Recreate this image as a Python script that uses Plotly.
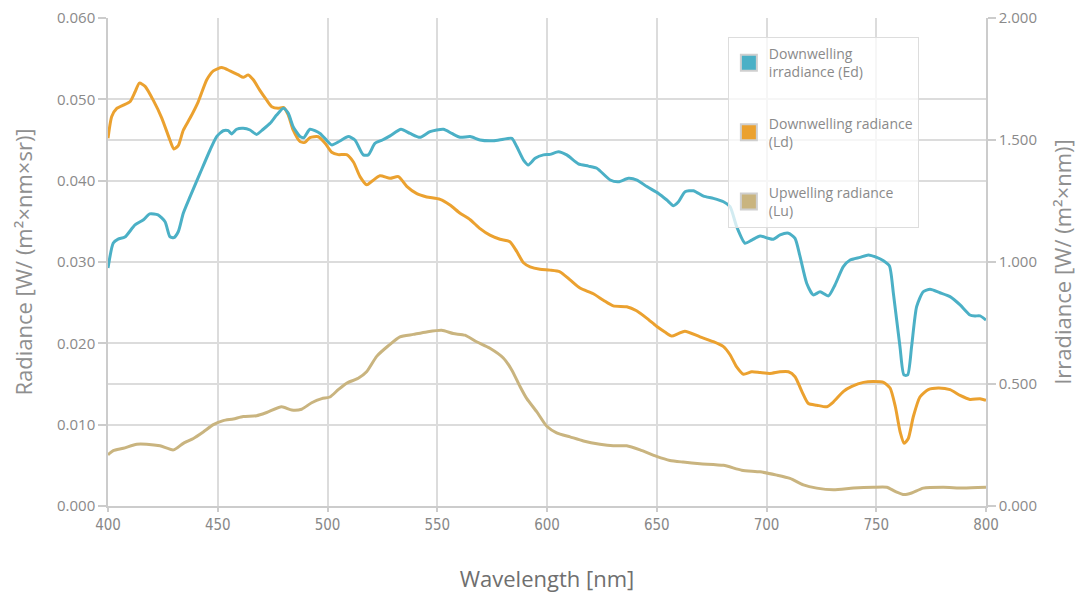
import plotly.graph_objects as go

# ---- Data ----
wl_ed = [400, 402.4, 404.6, 407.7, 412.3, 416, 419, 422.8, 426, 428.2, 430, 432, 434.3, 437.4, 442,
         446.5, 449.5, 452.5, 454.8, 456.3, 458.6, 461.6, 464.7, 467.7, 470.7, 473.8, 476.8, 479.9,
         482.1, 484.4, 487.5, 489.3, 492, 496.6, 501.9, 505.7, 509.5, 512.5, 516.3, 518.6, 521.6,
         525, 528.5, 533.5, 537.6, 542.1, 546.7, 552.8, 556.6, 560.4, 565, 569.5, 575.6, 580.1, 584,
         586.2, 589.3, 591.5, 594.6, 598.4, 601.4, 605.2, 609, 614.3, 618.9, 622.7, 628.8, 632.6,
         637.1, 641, 645.5, 650.8, 654.6, 657.6, 659.9, 662.9, 666.7, 671.3, 675.8, 680.4, 683.4,
         686.4, 690.2, 693.3, 697.1, 700.8, 703.1, 706.2, 710, 713, 715.3, 718.3, 721.3, 724.4,
         728.2, 731.2, 735, 738.1, 742.6, 746.4, 750.2, 753.3, 756, 757.8, 760.8, 762.6, 764.3,
         766.1, 768.4, 771.4, 774.5, 779, 783.6, 788.2, 792.7, 795, 797.3, 800]
ed = [0.975, 1.078, 1.094, 1.102, 1.152, 1.172, 1.197, 1.193, 1.165, 1.104, 1.100, 1.124, 1.200,
      1.268, 1.365, 1.459, 1.514, 1.538, 1.538, 1.525, 1.544, 1.548, 1.541, 1.523, 1.544, 1.568,
      1.602, 1.630, 1.610, 1.554, 1.514, 1.510, 1.544, 1.527, 1.480, 1.496, 1.514, 1.500, 1.439,
      1.439, 1.486, 1.500, 1.517, 1.544, 1.527, 1.511, 1.534, 1.544, 1.527, 1.511, 1.514, 1.500,
      1.497, 1.503, 1.507, 1.473, 1.418, 1.398, 1.425, 1.439, 1.441, 1.452, 1.439, 1.402, 1.393,
      1.384, 1.336, 1.329, 1.343, 1.336, 1.309, 1.281, 1.254, 1.231, 1.247, 1.288, 1.292, 1.270,
      1.261, 1.247, 1.227, 1.145, 1.077, 1.090, 1.107, 1.097, 1.093, 1.111, 1.118, 1.097, 1.022,
      0.913, 0.865, 0.878, 0.861, 0.906, 0.981, 1.008, 1.019, 1.029, 1.019, 1.005, 0.984, 0.872,
      0.653, 0.537, 0.537, 0.653, 0.817, 0.878, 0.888, 0.874, 0.858, 0.824, 0.783, 0.779, 0.779,
      0.762]

wl_ld = [400, 401.7, 404, 407, 410, 412.3, 414.3, 416.9, 420.6, 424.5, 428.2, 430, 432, 434.3,
         437.4, 441.1, 445, 448, 451.8, 455.6, 459.4, 461.6, 463.9, 466.2, 469.2, 472.3, 474.6,
         477.6, 479.9, 482.1, 484.4, 487.5, 489.7, 492, 495.8, 498.9, 501.9, 504.9, 508.7, 511.8,
         514.8, 517.9, 520.1, 523.9, 528.5, 532.3, 536.1, 540.7, 545.2, 551.3, 555.8, 560.4, 565,
         569.5, 574, 578.6, 583.1, 586.2, 589.3, 592.3, 596.8, 601.4, 605.9, 610.5, 615, 621.1,
         625.7, 630.2, 636.3, 640.8, 645.4, 649.9, 653.7, 656.8, 659.8, 662.8, 669.7, 675.8, 680.4,
         683.4, 686.4, 689.5, 693.3, 697.1, 701.6, 706.2, 710, 713, 716.1, 719.1, 722.9, 727.5,
         730.5, 735.1, 738.9, 744.2, 748.7, 753.3, 756.3, 758.7, 760.9, 762.7, 764.6, 766.9, 769.9,
         773.7, 778.3, 783.6, 788.2, 792.7, 797.3, 800]
ld = [0.0452, 0.0479, 0.0489, 0.0493, 0.0497, 0.0509, 0.0520, 0.0516, 0.0499, 0.0477, 0.0450,
      0.0439, 0.0443, 0.0462, 0.0477, 0.0497, 0.0524, 0.0535, 0.0539, 0.0535, 0.0530, 0.0527,
      0.0530, 0.0524, 0.0511, 0.0499, 0.0491, 0.0489, 0.0490, 0.0481, 0.0462, 0.0448, 0.0447,
      0.0453, 0.0454, 0.0446, 0.0435, 0.0432, 0.0432, 0.0423, 0.0405, 0.0395, 0.0399, 0.0406,
      0.0403, 0.0405, 0.0393, 0.0384, 0.0380, 0.0377, 0.0370, 0.0360, 0.0352, 0.0341, 0.0333,
      0.0328, 0.0325, 0.0313, 0.0299, 0.0294, 0.0291, 0.0290, 0.0288, 0.0278, 0.0268, 0.0261,
      0.0253, 0.0246, 0.0245, 0.0240, 0.0231, 0.0221, 0.0214, 0.0209, 0.0212, 0.0215, 0.0208,
      0.0202, 0.0196, 0.0186, 0.0171, 0.0162, 0.0165, 0.0164, 0.0163, 0.0165, 0.0165, 0.0159,
      0.0141, 0.0126, 0.0124, 0.0122, 0.0128, 0.0141, 0.0147, 0.0152, 0.0153, 0.0152, 0.0145,
      0.0122, 0.0091, 0.0077, 0.0083, 0.0110, 0.0134, 0.0143, 0.0145, 0.0143, 0.0136, 0.0131,
      0.0132, 0.0130]

wl_lu = [400, 402.4, 407, 413.1, 417.6, 423.7, 429.8, 434.3, 438.9, 443.4, 448, 452.5, 457.1,
         461.6, 467.7, 472.3, 479.1, 483.7, 488.2, 492.8, 497.4, 501.1, 504.9, 508.7, 514, 517.8,
         522.4, 527.7, 533, 539.1, 545.2, 552, 557.3, 562.6, 567.9, 574, 580.1, 584, 587.7, 590.8,
         595.3, 599.9, 604.4, 610.5, 616.6, 624.1, 630.2, 636.3, 642.4, 649.9, 656, 662, 669.7,
         680.4, 688.7, 697.1, 704.7, 710.7, 716.8, 722.9, 730.5, 739.6, 748.7, 754.8, 758.6,
         762.7, 766.1, 771.4, 780.5, 789.6, 800]
lu = [0.0063, 0.0068, 0.0071, 0.0076, 0.0076, 0.0074, 0.0069, 0.0077, 0.0083, 0.0091, 0.0100,
      0.0105, 0.0107, 0.0110, 0.0111, 0.0115, 0.0122, 0.0118, 0.0119, 0.0127, 0.0132, 0.0134,
      0.0143, 0.0151, 0.0157, 0.0165, 0.0184, 0.0197, 0.0208, 0.0211, 0.0214, 0.0216, 0.0212,
      0.0210, 0.0202, 0.0194, 0.0182, 0.0167, 0.0147, 0.0132, 0.0116, 0.0098, 0.0090, 0.0085,
      0.0080, 0.0076, 0.0074, 0.0074, 0.0069, 0.0061, 0.0056, 0.0054, 0.0052, 0.0050, 0.0044,
      0.0042, 0.0038, 0.0034, 0.0026, 0.0022, 0.0020, 0.0022, 0.0023, 0.0023, 0.0018, 0.0014,
      0.0016, 0.0022, 0.0023, 0.0022, 0.0023]

series_names = ["Downwelling<br>irradiance (Ed)", "Downwelling radiance<br>(Ld)",
                "Upwelling radiance<br>(Lu)"]
colors = ["#4BB0C6", "#EBA12F", "#C9B47F"]

x_ticks = [400, 450, 500, 550, 600, 650, 700, 750, 800]

fig = go.Figure()

line_kw = dict(mode="lines", line_shape="spline", showlegend=False, hoverinfo="x+y")
fig.add_trace(go.Scatter(x=wl_ed, y=ed, yaxis="y2", line=dict(color=colors[0], width=3,
                                                            smoothing=0.6), **line_kw))
fig.add_trace(go.Scatter(x=wl_ld, y=ld, yaxis="y", line=dict(color=colors[1], width=3,
                                                           smoothing=0.6), **line_kw))
fig.add_trace(go.Scatter(x=wl_lu, y=lu, yaxis="y", line=dict(color=colors[2], width=3,
                                                           smoothing=0.6), **line_kw))

# legend entries with square swatches
for i, (nm, c) in enumerate(zip(series_names, colors)):
    fig.add_trace(go.Scatter(x=[None], y=[None], mode="markers", name=nm,
                             legendgroup=f"g{i}",
                             marker=dict(symbol="square", size=16, color=c,
                                         line=dict(color="#cfcfcf", width=2))))

tick_font = dict(family="Open Sans, DejaVu Sans", size=15, color="#8a8a8a")

fig.update_layout(
    width=1069, height=585,
    margin=dict(l=100, r=91, t=10, b=87),
    paper_bgcolor="white", plot_bgcolor="white",
    font=dict(family="Open Sans", color="#888"),
    xaxis=dict(
        range=[400, 800], tickvals=x_ticks, ticktext=[str(v) for v in x_ticks],
        showgrid=True, gridcolor="#dcdcdc", gridwidth=1.5,
        showline=True, linecolor="#cccccc", linewidth=1.5,
        ticks="outside", ticklen=4, tickcolor="#cccccc", tickwidth=1.5,
        tickfont=dict(family="Liberation Sans Narrow, DejaVu Sans Condensed", size=15,
                      color="#888"),
        title=dict(text="Wavelength [nm]", standoff=51,
                   font=dict(family="Open Sans", size=22, color="#6f6f6f")),
        zeroline=False, automargin=False, ticklabeloverflow="allow",
    ),
    yaxis=dict(
        range=[0, 0.06], tickvals=[0, 0.01, 0.02, 0.03, 0.04, 0.05, 0.06], tickformat=".3f",
        showgrid=True, gridcolor="#dcdcdc", gridwidth=1.5,
        showline=True, linecolor="#cccccc", linewidth=1.5,
        ticks="outside", ticklen=8, tickcolor="#cccccc", tickwidth=1.5,
        tickfont=tick_font, ticklabeloverflow="allow",
        title=dict(text="Radiance [W/ (m²×nm×sr)]", standoff=23,
                   font=dict(family="Open Sans", size=22, color="#8f8f8f")),
        zeroline=False, automargin=False,
    ),
    yaxis2=dict(
        range=[0, 2], tickvals=[0, 0.5, 1, 1.5, 2], tickformat=".3f",
        overlaying="y", side="right",
        showgrid=True, gridcolor="#dcdcdc", gridwidth=1.5,
        showline=True, linecolor="#cccccc", linewidth=1.5,
        ticks="outside", ticklen=8, tickcolor="#cccccc", tickwidth=1.5,
        tickfont=tick_font, ticklabeloverflow="allow",
        title=dict(text="Irradiance [W/ (m²×nm)]", standoff=29,
                   font=dict(family="Open Sans", size=22, color="#8f8f8f")),
        zeroline=False, automargin=False,
    ),
    legend=dict(
        x=0.706, y=0.961, xanchor="left", yanchor="top",
        bgcolor="rgba(255,255,255,0.75)", bordercolor="#dddddd", borderwidth=1,
        font=dict(family="Open Sans", size=14, color="#8a8a8a"),
        tracegroupgap=30, itemwidth=30,
    ),
)

fig.write_html("out.html")
